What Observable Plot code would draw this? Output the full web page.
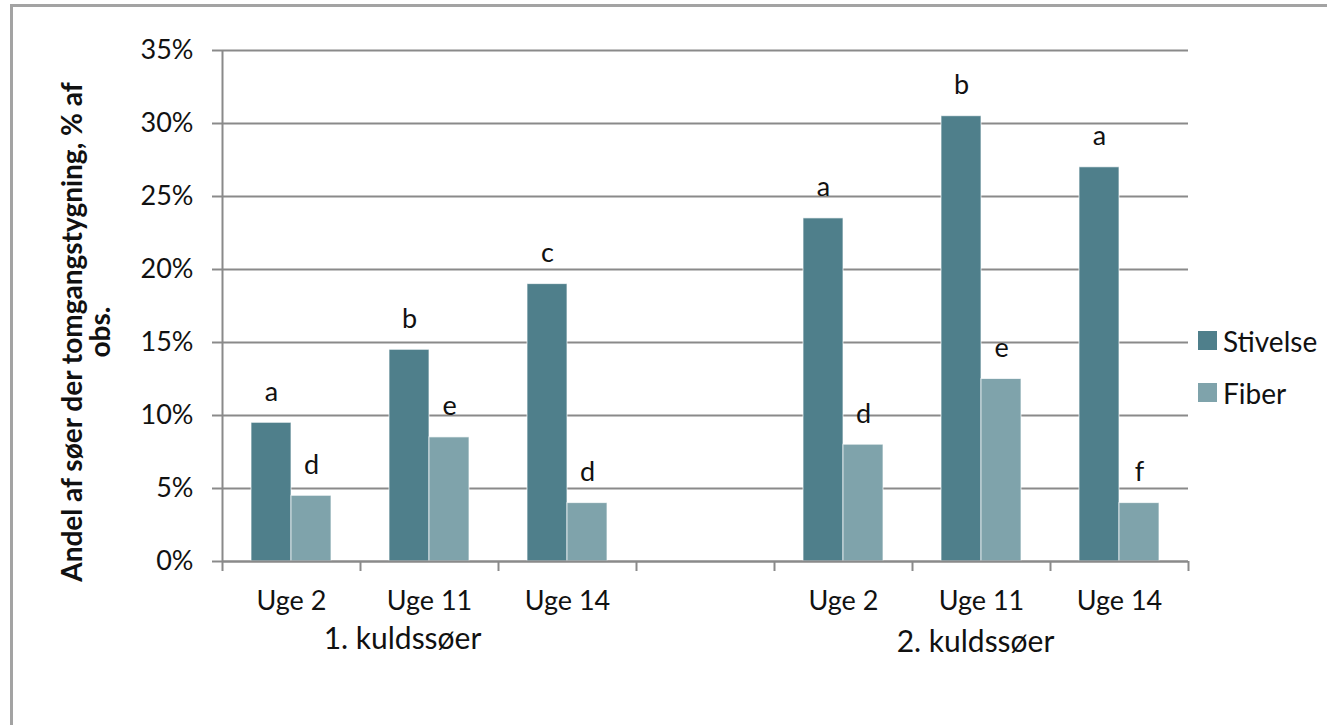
<!DOCTYPE html>
<html>
<head>
<meta charset="utf-8">
<script src="https://cdn.jsdelivr.net/npm/d3@7"></script>
<script src="https://cdn.jsdelivr.net/npm/@observablehq/plot@0.6"></script>
<style>
  html, body { margin: 0; padding: 0; background: #fff; }
  #wrap { position: relative; width: 1327px; height: 725px; overflow: hidden; font-family: Lato, sans-serif; }
  #border { position: absolute; left: 10px; top: 4px; right: -10px; bottom: -10px; border-left: 3px solid #a3a3a3; border-top: 3px solid #a3a3a3; }
  #chart { position: absolute; left: 0; top: 0; }
  #legend { position: absolute; left: 1198px; top: 331px; font-size: 28px; color: #111; }
  .item { display: flex; align-items: center; height: 19px; margin-bottom: 33px; white-space: nowrap; }
  .sw { width: 19px; height: 19px; margin-right: 6px; flex: none; }
</style>
</head>
<body>
<div id="wrap">
  <div id="border"></div>
  <div id="chart"></div>
  <div id="legend"></div>
</div>
<script>
// ---- data ----
const slots = ["1|Uge 2", "1|Uge 11", "1|Uge 14", "gap", "2|Uge 2", "2|Uge 11", "2|Uge 14"];
const seriesNames = ["Stivelse", "Fiber"];
const stivelse = [0.095, 0.145, 0.19, null, 0.235, 0.305, 0.27];
const fiber    = [0.045, 0.085, 0.04, null, 0.08, 0.125, 0.04];
const stivelseLetters = ["a", "b", "c", null, "a", "b", "a"];
const fiberLetters    = ["d", "e", "d", null, "d", "e", "f"];
const yTicks = [0, 0.05, 0.10, 0.15, 0.20, 0.25, 0.30, 0.35];
const groupAnchors = ["1|Uge 11", "2|Uge 11"];
const groupLabels = ["1. kuldssøer", "2. kuldssøer"];
const groupShift = [-27, -6];
const yTitle = "Andel af søer der tomgangstygning, % af\nobs.";
const colors = ["#4f7f8b", "#7fa3ab"];

// ---- layout ----
const W = 1327, H = 725;
const mL = 222, mR = 139, mT = 50, mB = 164;
const step = (W - mL - mR) / slots.length;
const barW = 40;
const grid = "#8a8a8a";
const ink = "#111";

const rows = [];
slots.forEach((s, i) => {
  if (stivelse[i] != null) rows.push({slot: s, series: "Stivelse", value: stivelse[i], letter: stivelseLetters[i]});
  if (fiber[i] != null) rows.push({slot: s, series: "Fiber", value: fiber[i], letter: fiberLetters[i]});
});
const stivRows = rows.filter(d => d.series === "Stivelse");
const fibRows = rows.filter(d => d.series === "Fiber");
const groups = groupAnchors.map((a, i) => ({slot: a, label: groupLabels[i], shift: groupShift[i]}));

const chart = Plot.plot({
  width: W, height: H,
  marginLeft: mL, marginRight: mR, marginTop: mT, marginBottom: mB,
  style: {fontFamily: "Lato, sans-serif", fontSize: "27px", color: ink, background: "transparent", overflow: "visible"},
  x: {type: "band", domain: slots, paddingInner: 0, paddingOuter: 0, axis: null},
  y: {domain: [0, 0.35], axis: null},
  marks: [
    Plot.gridY(yTicks, {stroke: grid, strokeOpacity: 1, strokeWidth: 2}),
    Plot.axisY(yTicks, {tickFormat: d3.format(".0%"), tickSize: 10, tickPadding: 19, stroke: grid, strokeWidth: 2, strokeOpacity: 1, fill: ink, label: null}),
    Plot.barY(stivRows, {x: "slot", y: "value", fill: colors[0], stroke: "#ffffff", strokeOpacity: 0.7, strokeWidth: 1, insetLeft: step / 2 - barW, insetRight: step / 2}),
    Plot.barY(fibRows, {x: "slot", y: "value", fill: colors[1], stroke: "#ffffff", strokeOpacity: 0.7, strokeWidth: 1, insetLeft: step / 2, insetRight: step / 2 - barW}),
    Plot.ruleY([0], {stroke: grid, strokeWidth: 2}),
    Plot.ruleX([slots[0]], {x: d => d, y1: 0.35, y2: 0, dx: -step / 2, insetBottom: -10, stroke: grid, strokeWidth: 2}),
    Plot.ruleX(slots, {x: d => d, y1: 0, y2: 0, dx: step / 2, insetBottom: -10, stroke: grid, strokeWidth: 2}),
    Plot.text(stivRows, {x: "slot", y: "value", text: "letter", dx: -barW / 2, dy: -22, lineAnchor: "bottom", fill: ink}),
    Plot.text(fibRows, {x: "slot", y: "value", text: "letter", dx: barW / 2, dy: -22, lineAnchor: "bottom", fill: ink}),
    Plot.axisX(slots, {tickFormat: d => d === "gap" ? "" : d.split("|")[1], tickSize: 0, tickPadding: 29, fill: ink, label: null}),
    Plot.text(groups.filter(g => g.shift < -10), {x: "slot", text: "label", frameAnchor: "bottom", lineAnchor: "top", dy: 66, dx: groupShift[0], fontSize: 30, fill: ink}),
    Plot.text(groups.filter(g => g.shift >= -10), {x: "slot", text: "label", frameAnchor: "bottom", lineAnchor: "top", dy: 69, dx: groupShift[1], fontSize: 30, fill: ink}),
    Plot.text([yTitle], {frameAnchor: "left", textAnchor: "middle", rotate: -90, dx: 87 - mL, dy: 26, lineAnchor: "middle", lineHeight: 1.0, fontWeight: "bold", fontSize: 28, fill: ink})
  ]
});
document.getElementById("chart").appendChild(chart);

// legend
const legend = document.getElementById("legend");
seriesNames.forEach((name, i) => {
  const item = document.createElement("div");
  item.className = "item";
  const sw = document.createElement("span");
  sw.className = "sw";
  sw.style.background = colors[i];
  const t = document.createElement("span");
  t.textContent = name;
  item.appendChild(sw); item.appendChild(t);
  legend.appendChild(item);
});
</script>
</body>
</html>
